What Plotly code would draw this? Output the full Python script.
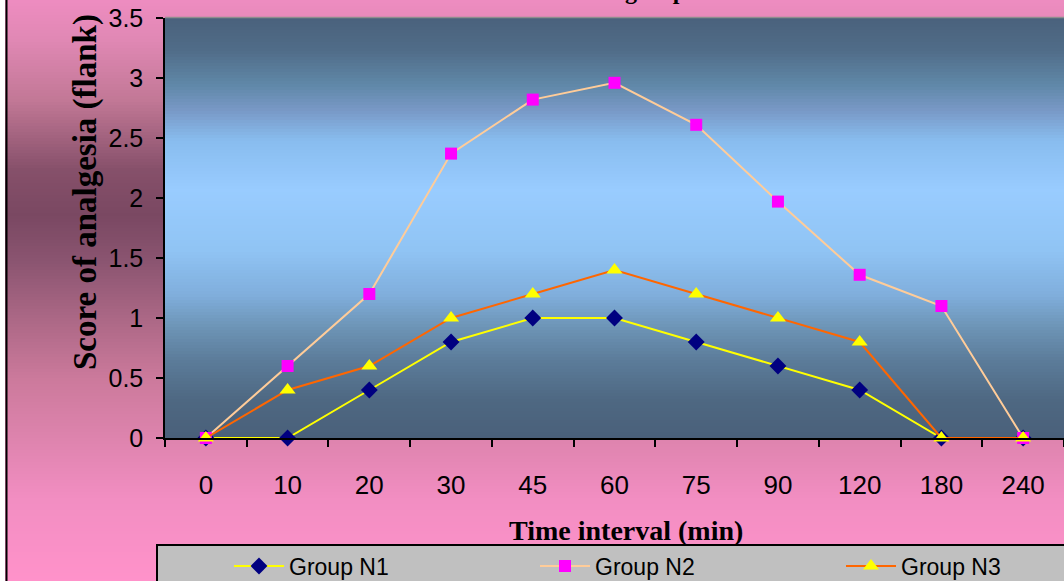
import plotly.graph_objects as go

# Time points (min) and mean analgesia scores per group
time_labels = ["0", "10", "20", "30", "45", "60", "75", "90", "120", "180", "240"]
group_n1 = [0, 0, 0.4, 0.8, 1.0, 1.0, 0.8, 0.6, 0.4, 0, 0]
group_n2 = [0, 0.6, 1.2, 2.37, 2.82, 2.96, 2.61, 1.97, 1.36, 1.1, 0]
group_n3 = [0, 0.4, 0.6, 1.0, 1.2, 1.4, 1.2, 1.0, 0.8, 0, 0]

W, H = 1064, 581
L, R = 165, 1064
T, B = 18, 438
PW, PH = R - L, B - T

SANS = "Arial, Liberation Sans, sans-serif"
SERIF = "Liberation Serif, Times New Roman, serif"


def px(x):
    return (x - L) / PW


def py(y):
    return (B - y) / PH


def hex2rgb(h):
    h = h.lstrip("#")
    return tuple(int(h[i:i + 2], 16) for i in (0, 2, 4))


def lerp_color(stops, y):
    for (y0, c0), (y1, c1) in zip(stops, stops[1:]):
        if y0 <= y <= y1:
            t = (y - y0) / (y1 - y0) if y1 > y0 else 0
            a, b = hex2rgb(c0), hex2rgb(c1)
            return "rgb(%d,%d,%d)" % tuple(round(a[i] + (b[i] - a[i]) * t) for i in range(3))
    return stops[-1][1]


# Page background: pink fading to mauve in the middle
page_stops = [(0, "#EE8CC0"), (40, "#E088B4"), (100, "#C27896"), (170, "#86506A"),
              (215, "#7A4862"), (260, "#8A5470"), (320, "#AC6886"), (380, "#CC7A9C"),
              (440, "#DE84AE"), (500, "#F28EC2"), (581, "#FF92CA")]
# Plot area: slate blue at top and bottom, light blue in the middle
plot_stops = [(18, "#4A627C"), (50, "#506C88"), (85, "#6088A8"), (110, "#7898C6"),
              (140, "#88BCEE"), (190, "#99CCFF"), (250, "#90C4F4"), (295, "#80AEDC"),
              (325, "#6E96B8"), (360, "#5C7C9A"), (400, "#4E6882"), (438, "#4A607A")]

shapes = []
step = 3
for y in range(0, H, step):
    shapes.append(dict(type="rect", xref="paper", yref="paper", layer="below",
                       x0=px(0), x1=px(W + 5), y0=py(y + step + 0.5), y1=py(y),
                       fillcolor=lerp_color(page_stops, y + step / 2), line_width=0))
for y in range(T, B, step):
    shapes.append(dict(type="rect", xref="paper", yref="paper", layer="below",
                       x0=0, x1=1.01, y0=py(min(y + step + 0.5, B)), y1=py(y),
                       fillcolor=lerp_color(plot_stops, y + step / 2), line_width=0))

# white margin and black frame line on the left
shapes.append(dict(type="rect", xref="paper", yref="paper", layer="below",
                   x0=px(0), x1=px(5), y0=py(H + 5), y1=py(-5), fillcolor="white", line_width=0))
shapes.append(dict(type="line", xref="paper", yref="paper", layer="above",
                   x0=px(6.5), x1=px(6.5), y0=py(H + 5), y1=py(-5), line=dict(color="black", width=2)))
# thin grey edge on top of the plot area
shapes.append(dict(type="line", xref="paper", yref="paper", layer="below",
                   x0=0, x1=1.01, y0=py(17.5), y1=py(17.5), line=dict(color="#8E8E8E", width=1.5)))
# legend box
shapes.append(dict(type="rect", xref="paper", yref="paper", layer="below",
                   x0=px(157), x1=px(W + 10), y0=py(H + 10), y1=py(545),
                   fillcolor="#C0C0C0", line=dict(color="black", width=2)))

fig = go.Figure()
fig.add_trace(go.Scatter(x=time_labels, y=group_n1, name="Group N1", mode="lines+markers",
                         line=dict(color="#FFFF00", width=2), cliponaxis=False,
                         marker=dict(symbol="diamond", size=13, color="#000080"),
                         legend="legend"))
fig.add_trace(go.Scatter(x=time_labels, y=group_n2, name="Group N2", mode="lines+markers",
                         line=dict(color="#FFCC99", width=2), cliponaxis=False,
                         marker=dict(symbol="square", size=12, color="#FF00FF"),
                         legend="legend2"))
fig.add_trace(go.Scatter(x=time_labels, y=group_n3, name="Group N3", mode="lines+markers",
                         line=dict(color="#FF6600", width=2), cliponaxis=False,
                         marker=dict(symbol="triangle-up", size=14, color="#FFFF00"),
                         legend="legend3"))

annotations = [
    dict(text="<b>Score of analgesia (flank)</b>", xref="paper", yref="paper",
         x=px(85), y=py(192), xanchor="center", yanchor="middle", textangle=-90, showarrow=False,
         font=dict(family=SERIF, size=33, color="black")),
    dict(text="<b>Time interval (min)</b>", xref="paper", yref="paper",
         x=px(626), y=py(530), xanchor="center", yanchor="middle", showarrow=False,
         font=dict(family=SERIF, size=28, color="black")),
    dict(text="<b>Scores in the three groups</b>", xref="paper", yref="paper",
         x=px(697), y=py(6), xanchor="right", yanchor="bottom", showarrow=False,
         font=dict(family=SERIF, size=24, color="black")),
]


def legend_at(x_px):
    return dict(orientation="h", x=px(x_px), y=py(566), xanchor="left", yanchor="middle",
                bgcolor="rgba(0,0,0,0)", borderwidth=0, itemwidth=50,
                font=dict(family=SANS, size=23, color="black"))


fig.update_layout(
    width=W, height=H,
    margin=dict(l=L, r=W - R, t=T, b=H - B, autoexpand=False),
    paper_bgcolor="#F090C0",
    plot_bgcolor="rgba(0,0,0,0)",
    shapes=shapes,
    annotations=annotations,
    showlegend=True,
    legend=legend_at(229),
    legend2=legend_at(535),
    legend3=legend_at(841),
    xaxis=dict(type="category", categoryorder="array", categoryarray=time_labels,
               range=[-0.5, 10.5], tickson="boundaries", ticks="outside", ticklen=7,
               tickcolor="black", tickwidth=1.5, showline=True, linecolor="black", linewidth=1.5,
               showgrid=False, zeroline=False,
               tickfont=dict(family=SANS, size=26, color="black"),
               ticklabelstandoff=23),
    yaxis=dict(range=[0, 3.5], dtick=0.5, ticks="outside", ticklen=7, tickcolor="black",
               tickwidth=1.5, showline=True, linecolor="black", linewidth=1.5,
               showgrid=False, zeroline=False,
               tickfont=dict(family=SANS, size=25, color="black"),
               ticklabelstandoff=8),
)

fig.write_html("out.html")
